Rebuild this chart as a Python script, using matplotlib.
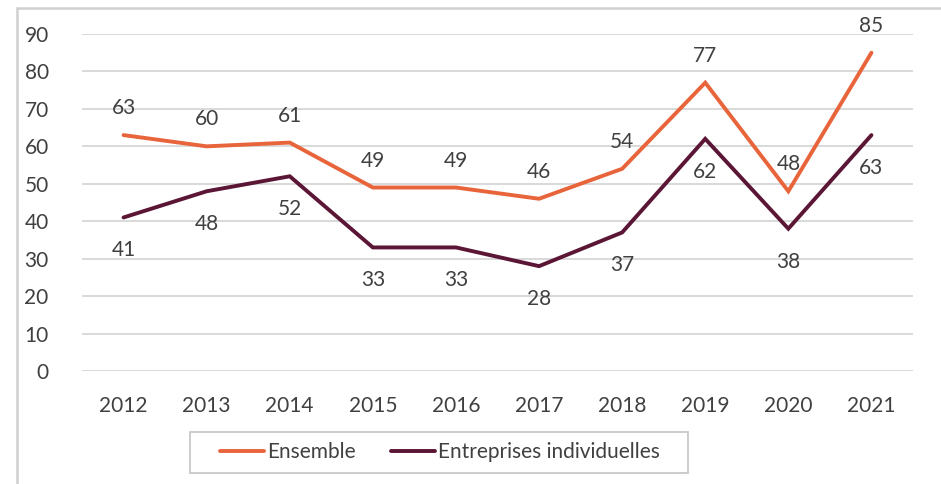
import matplotlib
matplotlib.use("Agg")
import matplotlib.pyplot as plt
from matplotlib.patches import Rectangle

years = ["2012", "2013", "2014", "2015", "2016", "2017", "2018", "2019", "2020", "2021"]
ensemble = [63, 60, 61, 49, 49, 46, 54, 77, 48, 85]
individuelles = [41, 48, 52, 33, 33, 28, 37, 62, 38, 63]
y_ticks = [0, 10, 20, 30, 40, 50, 60, 70, 80, 90]

ORANGE = "#E8643A"
MAROON = "#5B1535"
TEXT = "#404040"
GRID = "#D9D9D9"

plt.rcParams["font.family"] = ["Lato", "DejaVu Sans"]

fig = plt.figure(figsize=(9.41, 4.84), dpi=100)
W, H = 941, 484
ax = fig.add_axes([82 / W, 1 - 371 / H, (913 - 82) / W, (371 - 34) / H])

x = list(range(len(years)))
ax.plot(x, ensemble, color=ORANGE, lw=2.8, label="Ensemble", solid_capstyle="round",
        solid_joinstyle="miter", zorder=3)
ax.plot(x, individuelles, color=MAROON, lw=2.8, label="Entreprises individuelles",
        solid_capstyle="round", solid_joinstyle="miter", zorder=3)

for xi, v in zip(x, ensemble):
    ax.annotate(str(v), (xi, v), xytext=(0, 27), textcoords="offset pixels",
                ha="center", va="center", fontsize=15, color=TEXT)
for xi, v in zip(x, individuelles):
    ax.annotate(str(v), (xi, v), xytext=(0, -33), textcoords="offset pixels",
                ha="center", va="center", fontsize=15, color=TEXT)

ax.set_xlim(-0.5, len(years) - 0.5)
ax.set_ylim(0, 90)
ax.set_yticks(y_ticks)
ax.set_xticks(x)
ax.set_xticklabels(years)
ax.tick_params(axis="both", length=0, labelsize=15, labelcolor=TEXT)
ax.tick_params(axis="y", pad=24)
ax.tick_params(axis="x", pad=18)
ax.grid(axis="y", color=GRID, lw=1.4)
ax.set_axisbelow(True)
for s in ax.spines.values():
    s.set_visible(False)

leg = fig.legend(loc="center", bbox_to_anchor=(440 / W, 1 - 452 / H), ncol=2,
                 frameon=False, fontsize=15, handlelength=2.1, handletextpad=0.15,
                 columnspacing=1.7)
for t in leg.get_texts():
    t.set_color(TEXT)

# legend box
fig.patches.append(Rectangle((190 / W, 1 - 473 / H), (688 - 190) / W, (473 - 432) / H,
                             transform=fig.transFigure, fill=False,
                             edgecolor="#C8C8C8", lw=1.3))
# chart frame
fig.patches.append(Rectangle((17 / W, -0.1), 1.2, 1 - 8 / H + 0.1, transform=fig.transFigure,
                             fill=False, edgecolor="#D0D0D0", lw=1.8))

fig.savefig("out.png", dpi=100)
